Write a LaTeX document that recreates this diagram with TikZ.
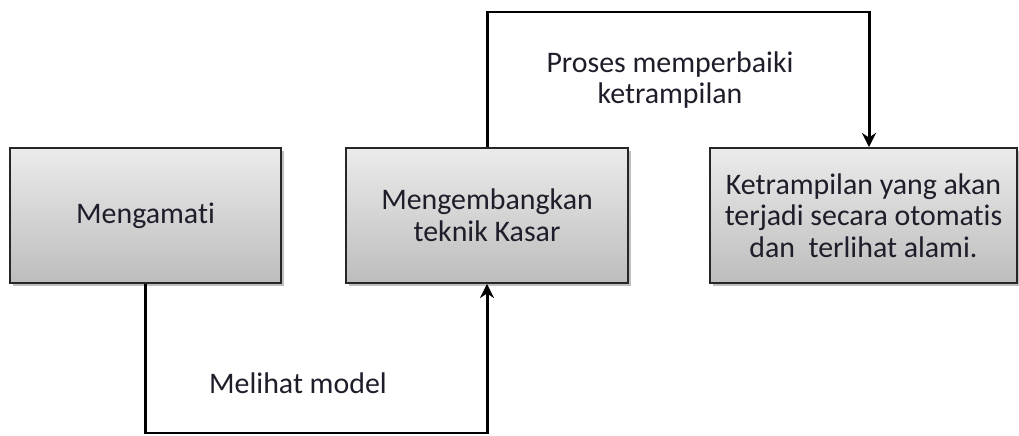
\documentclass[tikz,border=0pt]{standalone}
\usepackage{fontspec}
\setmainfont{Carlito}[Ligatures=NoCommon]
\usetikzlibrary{calc,positioning,arrows.meta,shadows}
\definecolor{BoxTop}{HTML}{EBEBEB}
\definecolor{BoxBottom}{HTML}{BDBDBD}
\definecolor{EdgeDark}{HTML}{262626}
\definecolor{TextDark}{HTML}{1E1E2A}

\begin{document}
\begin{tikzpicture}
      \useasboundingbox (0,0) rectangle (20.38,-8.72);
      \tikzset{
        kotak/.style={
          draw=EdgeDark,
          line width=1.1pt,
          top color=BoxTop,
          bottom color=BoxBottom,
          minimum height=2.7cm,
          align=center,
          text=TextDark,
          font=\fontsize{17}{18}\selectfont,
          drop shadow={shadow xshift=0.05cm, shadow yshift=-0.05cm, fill=black, opacity=0.25}
        },
        label teks/.style={
          align=center,
          text=TextDark,
          font=\fontsize{17}{18}\selectfont
        },
        alur/.style={
          draw=black,
          line width=1.7pt,
          -{Stealth[length=8pt,width=8pt]}
        }
      }
      \node[kotak, minimum width=5.42cm] (f1) at (2.91,-4.31) {Mengamati};
      \node[kotak, minimum width=5.64cm] (f2) at (9.74,-4.31) {Mengembangkan\\teknik Kasar};
      \node[kotak, minimum width=6.14cm] (f3) at (17.27,-4.31) {Ketrampilan yang akan\\terjadi secara otomatis\\dan~~terlihat alami.};
      \coordinate (atas) at (0,-0.24);
      \coordinate (bawah) at (0,-8.66);
      % jalur bawah dan atas
      \draw[alur] (f1.south) -- (f1.south |- bawah) -| (f2.south);
      \draw[alur] (f2.north) -- (f2.north |- atas) -| ([xshift=0.11cm]f3.north);
      \node[label teks] (t1) at (13.4,-1.6) {Proses memperbaiki\\ketrampilan};
      \node[label teks] (t2) at (5.96,-7.66) {Melihat model};
    \end{tikzpicture}
\end{document}
